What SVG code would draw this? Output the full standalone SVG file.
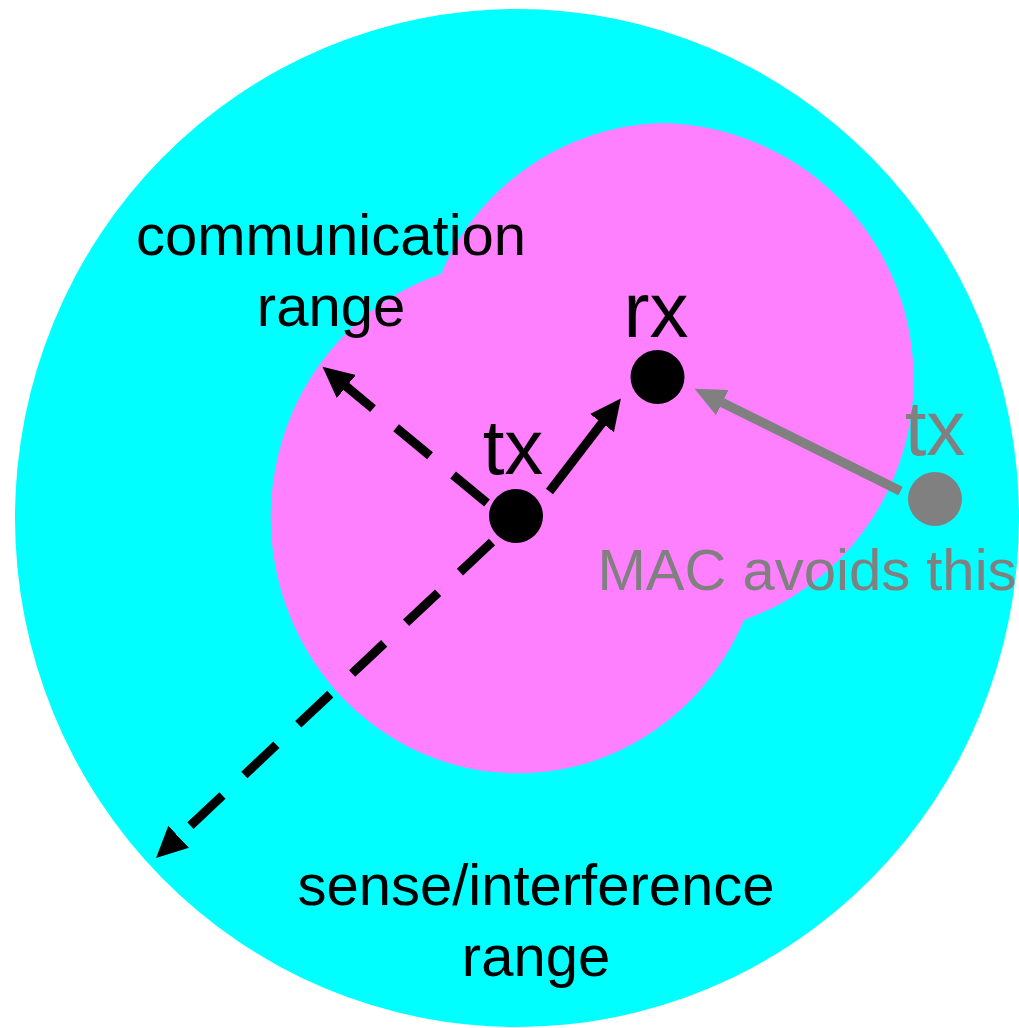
<svg xmlns="http://www.w3.org/2000/svg" width="1019" height="1028" viewBox="0 0 1019 1028">
  <style>
    .lbl { font-family: "Liberation Sans", Arial, sans-serif; font-size: 58px; fill: #000000; text-anchor: middle; }
    .big { font-family: "Liberation Sans", Arial, sans-serif; font-size: 78px; fill: #000000; text-anchor: middle; }
    .gray { fill: #808080; }
    .dot { fill: #000000; }
    .dotg { fill: #808080; }
    .ln { fill: none; stroke: #000000; stroke-width: 9; }
    .dash { stroke-dasharray: 44 30; }
    .lng { fill: none; stroke: #808080; stroke-width: 9.5; }
  </style>
  <defs>
    <marker id="ah" viewBox="0 -16 32 32" refX="11" refY="0" markerWidth="32" markerHeight="32" markerUnits="userSpaceOnUse" orient="auto">
      <path d="M0,-15 L31,0 L0,15 z" fill="#000000"/>
    </marker>
    <marker id="ahg" viewBox="0 -16 32 32" refX="11" refY="0" markerWidth="32" markerHeight="32" markerUnits="userSpaceOnUse" orient="auto">
      <path d="M0,-14 L31,0 L0,14 z" fill="#808080"/>
    </marker>
  </defs>
  <rect x="0" y="0" width="1019" height="1028" fill="#ffffff"/>
  <g id="sense-range">
    <ellipse cx="517" cy="518" rx="502" ry="509" fill="#00ffff"/>
  </g>
  <g id="comm-range">
    <path d="M441,274 A248,248 0 0 1 660,123 A256,256 0 0 1 744,620 A247,256 0 1 1 441,274 Z" fill="#ff80ff"/>
  </g>
  <g id="connectors">
    <path class="ln dash" d="M487,503 L337.9,379.5" marker-end="url(#ah)"/>
    <path class="ln dash" d="M492,542 L170.6,844.3" marker-end="url(#ah)"/>
    <path class="ln" d="M549.5,491.5 L608.7,414.3" marker-end="url(#ah)"/>
    <path class="lng" d="M900.5,491 L712.4,397.7" marker-end="url(#ahg)"/>
  </g>
  <g id="node-tx">
    <circle class="dot" cx="516" cy="516" r="27"/>
    <text class="big" x="513" y="474">tx</text>
  </g>
  <g id="node-rx">
    <circle class="dot" cx="657.5" cy="377" r="27"/>
    <text class="big" x="656" y="337">rx</text>
  </g>
  <g id="node-tx2">
    <circle class="dotg" cx="935" cy="499" r="27"/>
    <text class="big gray" x="935" y="455">tx</text>
    <text class="lbl gray" x="807" y="590">MAC avoids this</text>
  </g>
  <g id="labels">
    <text class="lbl" x="331" y="255">communication</text>
    <text class="lbl" x="331" y="326">range</text>
    <text class="lbl" x="536" y="905">sense/interference</text>
    <text class="lbl" x="536" y="976">range</text>
  </g>
</svg>
